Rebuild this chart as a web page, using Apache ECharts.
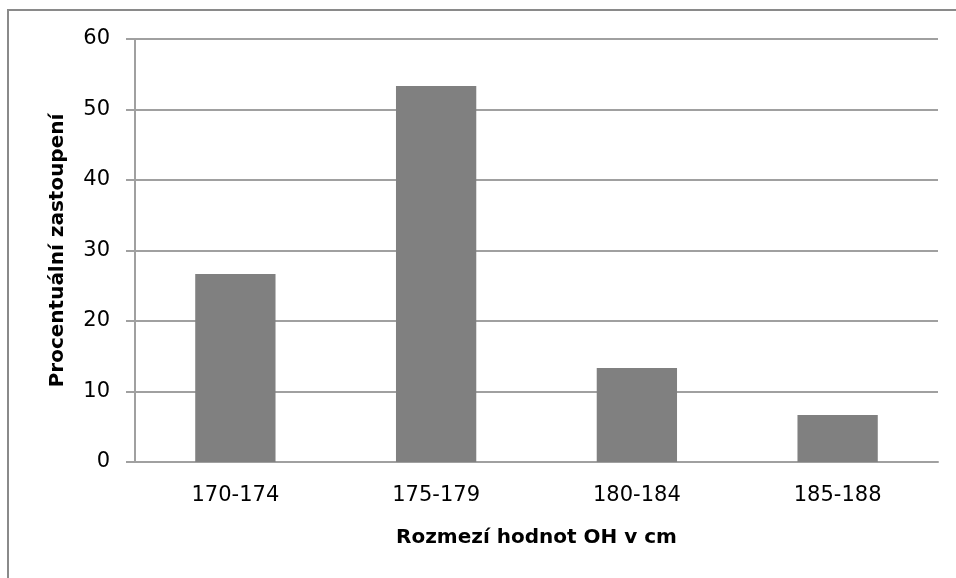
<!DOCTYPE html>
<html>
<head>
<meta charset="utf-8">
<script src="https://cdn.jsdelivr.net/npm/echarts@6/dist/echarts.min.js"></script>
<style>
  html, body { margin: 0; padding: 0; background: #ffffff; }
  #chart { width: 956px; height: 578px; }
</style>
</head>
<body>
<div id="chart"></div>
<script>
// Height ranges (cm) and their share of the group (%)
const categories = ['170-174', '175-179', '180-184', '185-188'];
const shares = [26.67, 53.33, 13.33, 6.67];
const yTicks = { min: 0, max: 60, interval: 10 };
const xAxisTitle = 'Rozmezí hodnot OH v cm';
const yAxisTitle = 'Procentuální zastoupení';

const font = 'DejaVu Sans';
const gridColor = '#a0a0a0';

const chart = echarts.init(document.getElementById('chart'), null, { renderer: 'canvas' });

chart.setOption({
  backgroundColor: '#ffffff',
  animation: false,
  graphic: [
    {
      // outer chart frame (continues past the right and bottom edges)
      type: 'polyline',
      shape: { points: [[8, 600], [8, 10], [980, 10]] },
      style: { stroke: '#8a8a8a', lineWidth: 2, fill: null }
    }
  ],
  grid: { left: 135, right: 18, top: 39, bottom: 116, containLabel: false },
  xAxis: {
    type: 'category',
    data: categories,
    axisLine: { show: true, lineStyle: { color: gridColor, width: 2 } },
    axisTick: { show: false },
    axisLabel: { color: '#000', fontFamily: font, fontSize: 21, margin: 23 },
    name: xAxisTitle,
    nameLocation: 'middle',
    nameGap: 66,
    nameTextStyle: { color: '#000', fontFamily: font, fontSize: 20, fontWeight: 'bold' }
  },
  yAxis: {
    type: 'value',
    min: yTicks.min,
    max: yTicks.max,
    interval: yTicks.interval,
    axisLine: { show: true, lineStyle: { color: gridColor, width: 2 } },
    axisTick: { show: true, inside: false, length: 9, lineStyle: { color: gridColor, width: 2 } },
    splitLine: { show: true, lineStyle: { color: gridColor, width: 2 } },
    axisLabel: { color: '#000', fontFamily: font, fontSize: 21, margin: 25 },
    name: yAxisTitle,
    nameLocation: 'middle',
    nameGap: 67,
    nameRotate: 90,
    nameTextStyle: { color: '#000', fontFamily: font, fontSize: 20, fontWeight: 'bold' }
  },
  series: [
    {
      type: 'bar',
      data: shares,
      barCategoryGap: '60%',
      itemStyle: { color: '#808080' },
      emphasis: { disabled: true }
    }
  ]
});
</script>
</body>
</html>
